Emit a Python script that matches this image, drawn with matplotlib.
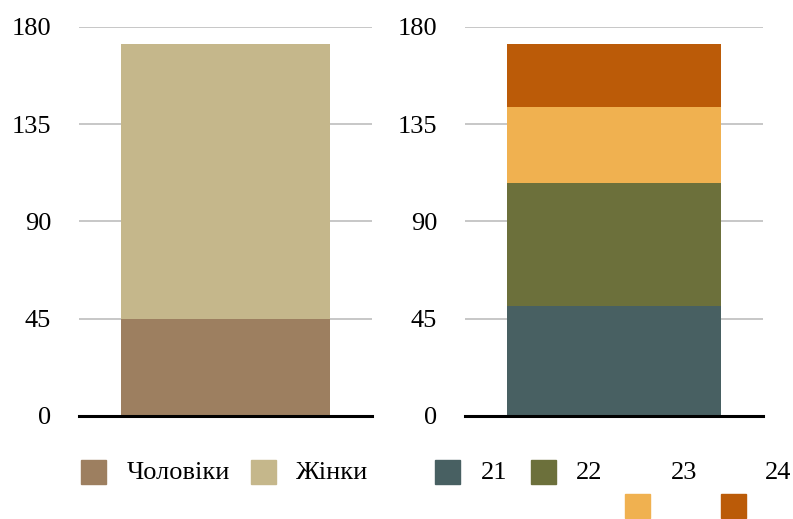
import matplotlib
matplotlib.use("Agg")
import matplotlib.pyplot as plt
from matplotlib.patches import Rectangle

# Gender split (left) and age split (right), stacked in one bar each
gender_labels = ["Чоловіки", "Жінки"]
gender_values = [45, 127]
gender_colors = ["#9D7F60", "#C5B78B"]

age_labels = ["21", "22", "23", "24"]
age_values = [51, 57, 35, 29]
age_colors = ["#486062", "#6C703B", "#F0B150", "#BB5B08"]

y_ticks = [0, 45, 90, 135, 180]

plt.rcParams["font.family"] = ["Liberation Serif", "DejaVu Serif"]
plt.rcParams["font.size"] = 19

W, H = 793, 519
fig = plt.figure(figsize=(W / 100, H / 100), dpi=100)


def px_axes(x0, x1, y_top, y_bottom):
    return fig.add_axes([x0 / W, 1 - y_bottom / H, (x1 - x0) / W, (y_bottom - y_top) / H])


def stacked_bar(ax, values, colors, width):
    bottom = 0
    for v, c in zip(values, colors):
        ax.bar(0, v, bottom=bottom, width=width, color=c, zorder=2)
        bottom += v
    ax.set_xlim(-0.5, 0.5)
    ax.set_ylim(0, 180)
    ax.set_yticks(y_ticks)
    ax.set_xticks([])
    ax.tick_params(axis="y", length=0, pad=20, labelsize=19)
    for side in ["top", "left", "right"]:
        ax.spines[side].set_visible(False)
    ax.spines["bottom"].set_linewidth(2.2)
    ax.spines["bottom"].set_color("black")
    ax.spines["bottom"].set_zorder(3)
    ax.yaxis.grid(True, color="#bdbdbd", linewidth=1.2, zorder=0)
    ax.set_axisbelow(True)


ax1 = px_axes(79, 372, 27, 416)
stacked_bar(ax1, gender_values, gender_colors, 0.713)

ax2 = px_axes(465, 763, 27, 416)
stacked_bar(ax2, age_values, age_colors, 0.718)


# Hand-placed legend entries (pixel positions), squares 25x24 px
def legend_box(x, y, color):
    fig.patches.append(Rectangle((x / W, 1 - (y + 24) / H), 25 / W, 24 / H,
                                 transform=fig.transFigure, color=color))


def legend_text(x, y, text):
    fig.text(x / W, 1 - y / H, text, ha="left", va="center", fontsize=19)


row1 = 460
row2 = 494
# left chart legend
legend_box(81, row1, gender_colors[0])
legend_text(127, row1 + 13, gender_labels[0])
legend_box(251, row1, gender_colors[1])
legend_text(296, row1 + 13, gender_labels[1])

# right chart legend (last two squares wrap to a second row)
box_pos = [(435, row1), (531, row1), (625, row2), (721, row2)]
text_x = [481, 576, 671, 765]
for (bx, by), tx, lab, col in zip(box_pos, text_x, age_labels, age_colors):
    legend_box(bx, by, col)
    legend_text(tx, row1 + 13, lab)

fig.savefig("out.png", dpi=100)
